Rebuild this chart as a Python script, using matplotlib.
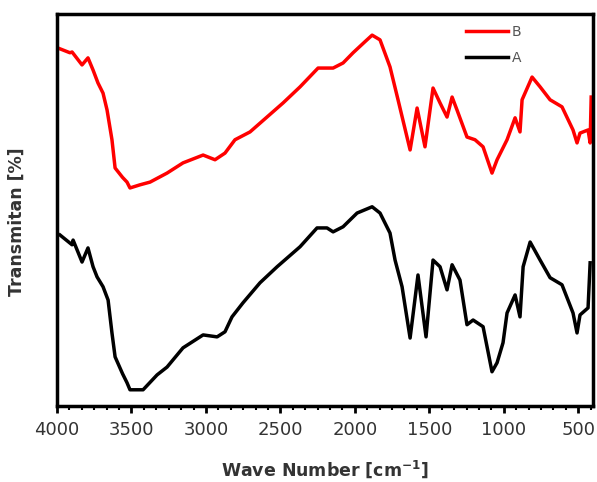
import matplotlib
matplotlib.use("Agg")
import matplotlib.pyplot as plt
from matplotlib.ticker import AutoMinorLocator

plt.rcParams['font.family'] = ['DejaVu Sans']

# Sample B (red), wavenumber [cm-1] and transmittance [a.u.]
wn_b = [3993, 3913, 3899, 3832, 3792, 3758, 3725, 3691, 3664, 3631, 3610, 3560,
        3530, 3510, 3443, 3375, 3261, 3154, 3019, 2939, 2872, 2805, 2704, 2590,
        2482, 2368, 2247, 2146, 2079, 2012, 1930, 1884, 1831, 1764, 1710, 1629,
        1582, 1529, 1475, 1428, 1381, 1347, 1314, 1247, 1193, 1139, 1079, 1045,
        978, 924, 891, 877, 810, 756, 689, 609, 535, 508, 488, 434, 420, 413]
t_b = [91.3, 90.1, 90.3, 87.0, 88.8, 85.7, 82.4, 79.8, 75.5, 67.9, 60.7, 58.3,
       57.1, 55.6, 56.4, 57.1, 59.4, 62.0, 64.0, 62.8, 64.5, 67.9, 69.9, 73.7,
       77.3, 81.4, 86.2, 86.2, 87.5, 90.1, 93.0, 94.6, 93.4, 86.5, 78.1, 65.3,
       76.0, 66.1, 81.1, 77.3, 73.7, 78.8, 75.5, 68.6, 67.9, 66.1, 59.4, 62.8,
       67.9, 73.5, 69.9, 78.1, 83.9, 81.4, 78.1, 76.3, 70.4, 67.1, 69.6, 70.4,
       67.1, 78.8]

# Sample A (black)
wn_a = [3980, 3899, 3892, 3832, 3792, 3758, 3731, 3691, 3657, 3631, 3610, 3560,
        3530, 3510, 3422, 3328, 3261, 3154, 3019, 2925, 2872, 2825, 2751, 2637,
        2522, 2368, 2254, 2187, 2146, 2079, 1985, 1884, 1831, 1764, 1730, 1683,
        1629, 1576, 1522, 1475, 1428, 1381, 1347, 1294, 1247, 1206, 1139, 1079,
        1045, 1005, 978, 924, 891, 870, 823, 756, 689, 609, 535, 508, 488, 434,
        420]
t_a = [43.6, 41.1, 42.3, 36.7, 40.3, 35.5, 32.9, 30.4, 27.0, 18.6, 12.5, 8.2,
       5.9, 4.1, 4.1, 7.9, 9.9, 14.8, 18.1, 17.6, 18.9, 22.7, 26.3, 31.4,
       35.5, 40.6, 45.4, 45.4, 44.4, 45.7, 49.2, 50.8, 49.2, 44.1, 37.2, 30.4,
       17.3, 33.4, 17.6, 37.2, 35.5, 29.6, 36.0, 32.1, 20.7, 21.9, 20.2, 8.7,
       11.0, 16.1, 23.7, 28.3, 22.7, 35.5, 41.8, 37.2, 32.7, 30.9, 23.7, 18.6,
       23.2, 25.0, 36.5]

xticks = [4000, 3500, 3000, 2500, 2000, 1500, 1000, 500]

fig = plt.figure(figsize=(5.97, 4.82), dpi=100)
ax = fig.add_axes([0.0955, 0.158, 0.898, 0.813])

ax.plot(wn_b, t_b, color='#ff0000', lw=2.5, label='B')
ax.plot(wn_a, t_a, color='black', lw=2.5, label='A')

ax.set_xlim(4000, 400)
ax.set_ylim(0, 100)
ax.set_xticks(xticks)
ax.xaxis.set_minor_locator(AutoMinorLocator(6))
ax.set_yticks([])
ax.tick_params(axis='x', which='major', direction='out', length=5, width=2,
               labelsize=13, colors='black', labelcolor='#333333', pad=6)
ax.tick_params(axis='x', which='minor', direction='out', length=3, width=1.5)
for s in ax.spines.values():
    s.set_linewidth(2.5)

ax.set_xlabel('Wave Number [cm$^{\\mathbf{-1}}$]', fontsize=12.5, fontweight='bold',
              color='#333333', labelpad=14)
ax.set_ylabel('Transmitan [%]', fontsize=12.5, fontweight='bold', color='#333333')
ax.yaxis.set_label_coords(-0.058, 0.47)

leg = ax.legend(loc='upper right', bbox_to_anchor=(0.89, 1.005), frameon=False,
                fontsize=10, handlelength=3.0, handletextpad=0.3, labelspacing=0.9)
for t in leg.get_texts():
    t.set_color('#555555')

fig.savefig('out.png', dpi=100)
